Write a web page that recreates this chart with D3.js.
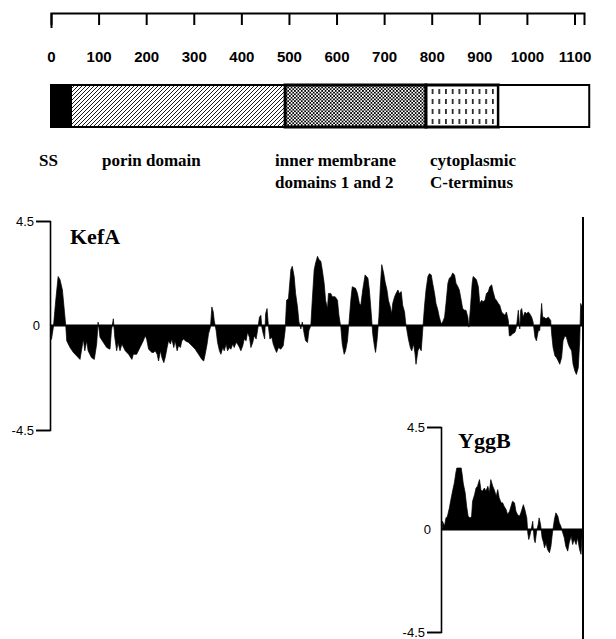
<!DOCTYPE html>
<html lang="en">
<head>
<meta charset="UTF-8">
<title>KefA / YggB hydropathy</title>
<script src="https://d3js.org/d3.v7.min.js"></script>
<style>
  body { margin: 0; background: #fff; }
  svg { display: block; }
</style>
</head>
<body>
<svg id="chart" width="616" height="639"></svg>
<script>
// residue ruler
const residueTicks = [0, 100, 200, 300, 400, 500, 600, 700, 800, 900, 1000, 1100];
const proteinLength = 1120;

// domain bar (residue numbers)
const domainStart = [0, 42, 492, 788, 940];
const domainEnd = [42, 492, 788, 940, 1131];
const domainFill = ['black', 'url(#hatch)', 'url(#checker)', 'url(#dashes)', 'white'];
const domainLabels = [['SS'], ['porin domain'], ['inner membrane', 'domains 1 and 2'], ['cytoplasmic', 'C-terminus']];

const yTicks = [-4.5, 0, 4.5];

// hydropathy profiles [residue, value]
const kefaProfile = [
  [0,-0.22],[1,-0.6],[5,-0.07],[10,1.09],[15,2.11],[19,1.97],[24,1.53],[28,0.66],[31,0],[33,-0.66],
  [40,-0.95],[47,-1.16],[54,-1.31],[61,-1.46],[64,-1.09],[68,-0.58],[71,-1.09],[75,-0.66],[78,-1.09],[85,-1.38],
  [91,-1.46],[96,-0.8],[99,0.15],[103,-0.51],[110,-0.73],[117,-0.95],[124,-1.02],[127,-0.22],[131,0.29],[134,-0.51],
  [138,-1.09],[141,-0.73],[145,-1.09],[149,-0.8],[156,-1.09],[163,-1.24],[170,-1.46],[173,-1.24],[180,-1.24],[187,-0.95],
  [194,-0.66],[198,-0.44],[201,-0.58],[205,-1.02],[212,-1.16],
  [216,-1.16],[219,-1.09],[223,-1.24],[226,-1.53],[230,-1.09],[233,-1.38],[237,-1.6],[240,-1.38],[244,-0.95],[247,-0.66],
  [251,-0.8],[254,-0.58],[258,-0.95],[261,-0.66],[265,-1.09],[268,-0.87],[272,-0.95],[275,-0.66],[279,-0.58],[282,-0.66],
  [289,-0.73],[296,-0.87],[303,-1.02],[310,-1.24],[317,-1.46],[321,-1.53],[324,-1.24],[328,-0.8],[331,-0.36],[335,-0.07],
  [338,0.8],[341,0.58],[343,0.22],[347,-0.22],[350,-0.73],[354,-1.09],[357,-1.24],[361,-0.95],[364,-1.09],[368,-0.8],
  [371,-1.09],[375,-0.95],[378,-1.02],[382,-0.8],[385,-0.95],[389,-0.73],[392,-0.8],[396,-0.95],[399,-1.09],[403,-0.87],
  [406,-0.58],[410,-0.66],[413,-0.29],[417,-0.51],[420,-0.95],[424,-0.73],[427,-0.44],[431,-0.58],[434,-0.22],[438,0.36],
  [441,0.44],[443,-0.07],[446,-0.36],[449,-0.58],[451,0.51],[454,0.73],[457,-0.07],[460,-0.58],[464,-0.51],[467,-0.8],
  [471,-1.02],[474,-1.16],[478,-0.95],[483,-1.02],[488,-0.87],[492,-0.22],[495,1.09],[499,1.16],[504,2.4],[507,2.55],
  [511,2.11],[514,1.38],[518,0.8],[521,0.15],[525,-0.15],[528,0.15],[532,-0.36],[535,-0.66],[539,-0.73],[542,-0.22],
  [546,0],[549,1.09],[553,2.4],[556,2.69],[560,2.98],[563,2.84],[567,2.77],[570,2.4],[574,1.82],[577,1.09],
  [581,0.73],[583,1.38],[588,1.38],[591,1.24],[597,1.24],[602,1.09],[605,0.44],[609,-0.07],[612,-0.8],[616,-1.24],
  [619,-1.09],[623,-0.66],[626,0.07],[630,1.09],[633,1.67],[640,1.6],[644,1.38],[648,0.95],[651,0.87],[655,1.53],
  [660,2.18],[666,2.04],[669,1.53],[673,0.51],[676,-0.36],[680,-0.95],[682,-1.16],[685,-0.66],[689,0.36],[692,1.67],
  [695,2.62],[699,2.26],[702,1.89],[706,1.53],[709,1.09],[713,0.8],[716,0.51],[718,0.95],[722,1.24],[725,1.38],
  [729,1.53],[732,1.38],[736,1.46],[739,0.87],[743,0.58],[745,0.15],[748,-0.22],[751,-0.58],[755,-0.95],[758,-1.09],
  [762,-0.8],[765,-1.24],[767,-1.67],[771,-1.09],[774,-0.95],[778,-1.09],[781,-0.22],[785,0.87],[788,1.53],[792,2.11],
  [795,2.23],[799,2.18],[802,1.82],[806,1.38],[809,0.95],[813,0.66],[816,0.36],[820,0.07],[823,0.15],[827,0.36],
  [830,0.95],[834,1.82],[837,2.04],[841,2.11],[844,2.26],[848,2.18],[851,1.82],[855,1.67],[858,1.53],[862,1.09],
  [865,0.73],[869,0.66],[872,0.66],[876,0.36],[878,-0.07],[881,0.66],[885,1.82],
  [887,2.11],[891,2.04],[894,1.97],[898,1.67],[901,0.95],[905,1.09],[908,1.02],[912,1.09],[915,1.38],[919,1.46],
  [922,1.67],[926,1.75],[929,1.46],[933,1.16],[936,1.09],[940,0.95],[943,0.87],[947,0.58],[950,0.51],[954,0.44],
  [957,0.58],[961,0.22],[963,-0.44],[966,-0.44],[970,-0.36],[975,-0.29],[978,-0.07],[982,0.66],[985,-0.15],[987,0.66],
  [989,0.73],[992,0.36],[996,0.58],[999,0.51],[1003,0.58],[1006,0.51],[1010,0.36],[1013,0.15],[1017,-0.51],[1020,-0.66],
  [1024,-0.22],[1027,-0.22],[1031,0.95],[1033,0.36],[1036,0.36],[1040,0.29],[1045,0.36],[1050,0.22],[1052,-0.36],[1055,-0.95],
  [1059,-1.31],[1062,-1.38],[1066,-1.53],[1069,-1.67],[1073,-1.38],[1076,-0.66],[1080,-0.44],[1083,-0.51],[1087,-0.8],[1090,-0.95],
  [1094,-1.09],[1097,-1.67],[1101,-1.97],[1104,-2.11],[1108,-1.82],[1111,-0.66],[1113,0.95],[1116,0.8]
];

const yggbLength = 286;
const yggbProfile = [
  [1,0.36],[5,0.15],[8,0.51],[11,0.58],[15,0.95],[18,1.31],[22,1.75],[25,2.04],[28,2.48],[30,2.7],
  [35,2.7],[39,2.7],[41,2.41],[43,2.04],[47,1.61],[50,1.02],[53,0.58],[57,0.51],[60,0.58],[62,1.24],
  [66,1.53],[69,1.82],[72,1.9],[76,2.19],[79,1.75],[82,1.68],[86,1.82],[89,1.68],[93,1.9],[96,1.61],
  [99,2.19],[103,1.9],[106,1.75],[110,1.46],[113,1.75],[116,1.39],[120,1.17],[123,1.17],[126,1.02],[130,0.88],
  [133,0.66],[137,0.8],[140,1.02],[143,1.24],[147,1.17],[150,0.8],[153,0.66],[157,0.58],[160,0.73],[165,1.09],
  [168,0.88],[172,0.51],[174,-0.15],[176,-0.44],[178,-0.29],[181,0],[184,0.36],[187,-0.44],[189,-0.58],[192,-0.07],
  [195,0.22],[197,0.51],[200,0.22],[203,-0.36],[206,-0.58],[208,-0.8],[211,-0.58],[214,-0.88],[218,-1.02],[221,-0.73],
  [224,-0.15],[228,0.44],[231,0.73],[235,0.58],[238,0.29],[241,0.15],[245,-0.15],[248,-0.36],[251,-0.73],[255,-0.95],
  [258,-0.58],[262,-0.29],[265,-0.66],[268,-0.44],[272,-0.66],[275,-0.36],[279,-0.88],[282,-1.09],[284,-0.29]
];

const numFont = '"Liberation Sans", Arial, Helvetica, sans-serif';
const serifFont = '"Liberation Serif", "Times New Roman", serif';

const svg = d3.select('#chart');
const x = d3.scaleLinear().domain([0, proteinLength]).range([51, 584]);

// patterns for the domain bar
const defs = svg.append('defs');
const hatch = defs.append('pattern').attr('id', 'hatch')
  .attr('patternUnits', 'userSpaceOnUse').attr('width', 4).attr('height', 4);
hatch.append('rect').attr('width', 4).attr('height', 4).attr('fill', 'white');
hatch.append('path').attr('d', 'M-1,1 l2,-2 M0,4 l4,-4 M3,5 l2,-2')
  .attr('stroke', 'black').attr('stroke-width', 0.9);

const checker = defs.append('pattern').attr('id', 'checker')
  .attr('patternUnits', 'userSpaceOnUse').attr('width', 3.4).attr('height', 3.4);
checker.append('rect').attr('width', 3.4).attr('height', 3.4).attr('fill', 'white');
checker.append('rect').attr('width', 1.7).attr('height', 1.7).attr('fill', 'black');
checker.append('rect').attr('x', 1.7).attr('y', 1.7).attr('width', 1.7).attr('height', 1.7).attr('fill', 'black');

const dashes = defs.append('pattern').attr('id', 'dashes')
  .attr('patternUnits', 'userSpaceOnUse').attr('width', 6.7).attr('height', 10).attr('y', 87);
dashes.append('rect').attr('width', 6.7).attr('height', 10).attr('fill', 'white');
dashes.append('rect').attr('x', 3).attr('y', 2).attr('width', 1.5).attr('height', 5).attr('fill', 'black');

// top ruler
const ruler = svg.append('g').attr('transform', 'translate(0,13)')
  .call(d3.axisBottom(x).tickValues(residueTicks).tickSize(12).tickSizeOuter(12)
    .tickPadding(26).tickFormat(d3.format('d')));
ruler.attr('font-family', numFont).attr('font-size', 15).attr('font-weight', 'bold');
ruler.select('.domain').attr('stroke-width', 2);
ruler.selectAll('.tick line').attr('stroke-width', 2);
ruler.selectAll('.tick').filter(d => d === 0).select('line').attr('y2', 15);

// domain bar
svg.append('g').selectAll('rect').data(domainStart).join('rect')
  .attr('x', d => x(d))
  .attr('width', (d, i) => x(domainEnd[i]) - x(d))
  .attr('y', 85).attr('height', 42)
  .attr('fill', (d, i) => domainFill[i])
  .attr('stroke', 'black')
  .attr('stroke-width', (d, i) => (i === 2 || i === 3) ? 3 : 2);

// domain labels
const labelX = [39, 102, 275, 430];
domainLabels.forEach((lines, i) => {
  const t = svg.append('text').attr('x', labelX[i]).attr('y', 166)
    .attr('font-family', serifFont).attr('font-weight', 'bold').attr('font-size', 17);
  lines.forEach((s, j) => t.append('tspan').attr('x', labelX[i]).attr('dy', j === 0 ? 0 : 22).text(s));
});

// hydropathy panel helper
function panel(data, xs, ys, name, nameX, nameY) {
  const area = d3.area().x(d => xs(d[0])).y0(ys(0)).y1(d => ys(d[1]));
  svg.append('path').datum(data).attr('d', area)
    .attr('fill', 'black').attr('stroke', 'black').attr('stroke-width', 0.7);
  svg.append('line')
    .attr('x1', xs.range()[0]).attr('x2', xs.range()[1])
    .attr('y1', ys(0)).attr('y2', ys(0))
    .attr('stroke', 'black').attr('stroke-width', 2);

  const ax = svg.append('g').attr('transform', `translate(${xs.range()[0] - 1},0)`)
    .call(d3.axisLeft(ys).tickValues(yTicks).tickSize(14).tickSizeOuter(14).tickPadding(2).tickFormat(d => String(d)));
  ax.attr('font-family', numFont).attr('font-size', 13);
  ax.select('.domain').attr('stroke-width', 1.6);
  ax.selectAll('.tick line').attr('stroke-width', 1.6);
  const zero = ax.selectAll('.tick').filter(d => d === 0);
  zero.select('line').remove();
  zero.select('text').attr('x', -10);

  svg.append('text').attr('x', nameX).attr('y', nameY)
    .attr('font-family', serifFont).attr('font-weight', 'bold').attr('font-size', 22)
    .text(name);
}

// KefA
const yK = d3.scaleLinear().domain([-4.5, 4.5]).range([430, 221]);
panel(kefaProfile, x, yK, 'KefA', 70, 244);

// YggB, aligned to the KefA C-terminus
const xY = d3.scaleLinear().domain([0, yggbLength]).range([442, x(proteinLength) - 1]);
const yY = d3.scaleLinear().domain([-4.5, 4.5]).range([632, 427]);
panel(yggbProfile, xY, yY, 'YggB', 458, 448);

// C-terminal end line
svg.append('line')
  .attr('x1', x(proteinLength) - 1).attr('x2', x(proteinLength) - 1)
  .attr('y1', 217).attr('y2', 639)
  .attr('stroke', 'black').attr('stroke-width', 2);
</script>
</body>
</html>
